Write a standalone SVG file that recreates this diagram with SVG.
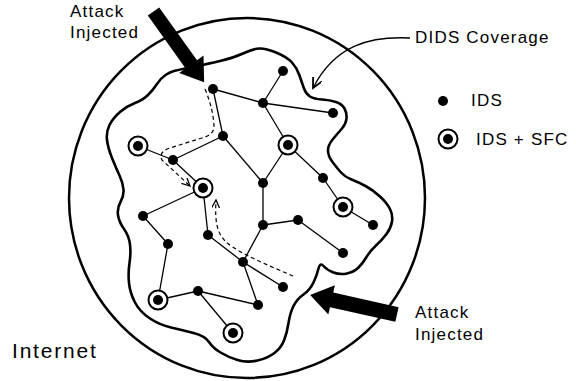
<svg xmlns="http://www.w3.org/2000/svg" width="576" height="381" viewBox="0 0 576 381">
<style>
.lbl{font-family:"Liberation Sans",Arial,sans-serif;font-size:17px;letter-spacing:1.2px;fill:#000}
.edge{stroke:#000;stroke-width:1.3;fill:none}
.dash{stroke:#000;stroke-width:1.2;fill:none;stroke-dasharray:4 3}
.dot{fill:#000}
.ring{fill:#fff;stroke:#000;stroke-width:2}
.thick{fill:#000}
</style>
<defs>
<marker id="vs" markerUnits="userSpaceOnUse" markerWidth="12" markerHeight="12" refX="8" refY="4" orient="auto">
<path d="M0,0 L8,4 L0,8" fill="none" stroke="#000" stroke-width="1.3" stroke-dasharray="none"/>
</marker>
<marker id="vl" markerUnits="userSpaceOnUse" markerWidth="14" markerHeight="14" refX="10" refY="5" orient="auto">
<path d="M0,0 L10,5 L0,10" fill="none" stroke="#000" stroke-width="1.8"/>
</marker>
</defs>
<rect width="576" height="381" fill="#fff"/>
<g id="internet">
<ellipse cx="247" cy="198" rx="178" ry="180" fill="none" stroke="#000" stroke-width="2.5"/>
<text class="lbl" x="12" y="358" style="font-size:21px;letter-spacing:1.8px">Internet</text>
</g>
<g id="coverage">
<path fill="none" stroke="#000" stroke-width="2.6" stroke-linejoin="round" d="M174,71 Q178,70 185,68.5 Q192,67 199.5,65.5 Q207,64 220,61 Q233,58 243,53.5 Q253,49 259,48.5 Q265,48 276,52.5 Q287,57 292,62.5 Q297,68 299.5,75.5 Q302,83 304,88.5 Q306,94 310,96.5 Q314,99 322,99.5 Q330,100 336,102 Q342,104 344.5,108.5 Q347,113 346.5,118.5 Q346,124 342,128.5 Q338,133 333,139 Q328,145 328,150.5 Q328,156 332.5,162 Q337,168 341,172.5 Q345,177 351.5,179.5 Q358,182 365.5,186 Q373,190 380,196.5 Q387,203 390,209 Q393,215 392,221.5 Q391,228 386.5,234 Q382,240 376,245.5 Q370,251 366.5,257 Q363,263 358.5,267.5 Q354,272 347,273.5 Q340,275 333.5,272.5 Q327,270 323.5,266 Q320,262 318.5,268.5 Q317,275 313.5,282.5 Q310,290 303.5,294.5 Q297,299 293.5,306 Q290,313 288.5,323 Q287,333 284,340.5 Q281,348 274.5,353 Q268,358 257.5,360.5 Q247,363 237.5,360 Q228,357 220.5,352.5 Q213,348 209,342 Q205,336 193.5,333 Q182,330 171,327.5 Q160,325 150,318.5 Q140,312 135,302.5 Q130,293 129,283 Q128,273 129.5,263 Q131,253 130,244.5 Q129,236 124,229 Q119,222 118,215 Q117,208 120.5,202 Q124,196 123.5,189.5 Q123,183 119.5,175.5 Q116,168 112,158 Q108,148 107,140 Q106,132 109.5,125 Q113,118 120,112 Q127,106 135,103 Q143,100 148,95 Q153,90 157,84 Q161,78 165.5,75 Q170,72 174,71 Z"/>
<path class="edge" d="M410,38 C370,36 335,45 313,88" stroke-width="1.6" marker-end="url(#vl)"/>
<text class="lbl" x="415" y="43">DIDS Coverage</text>
</g>
<g id="attack-top">
<polygon class="thick" points="0,-7 65,-7 65,-15 87,0 65,15 65,7 0,7" transform="translate(153.5,11.5) rotate(54.4)"/>
<text class="lbl" x="70" y="17">Attack</text>
<text class="lbl" x="70" y="38">Injected</text>
</g>
<g id="attack-bottom">
<polygon class="thick" points="0,-7.5 67,-7.5 67,-15 89,0 67,15 67,7.5 0,7.5" transform="translate(397,314.5) rotate(192.6)"/>
<text class="lbl" x="415" y="318">Attack</text>
<text class="lbl" x="415" y="340">Injected</text>
</g>
<g id="connectors">
<line class="edge" x1="213" y1="89" x2="263" y2="103"/>
<line class="edge" x1="213" y1="89" x2="223" y2="136"/>
<line class="edge" x1="263" y1="103" x2="283" y2="71"/>
<line class="edge" x1="263" y1="103" x2="333" y2="113"/>
<line class="edge" x1="263" y1="103" x2="288" y2="145"/>
<line class="edge" x1="223" y1="136" x2="173" y2="160"/>
<line class="edge" x1="223" y1="136" x2="263" y2="183"/>
<line class="edge" x1="138" y1="146" x2="173" y2="160"/>
<line class="edge" x1="173" y1="160" x2="203" y2="188"/>
<line class="edge" x1="203" y1="188" x2="143" y2="216"/>
<line class="edge" x1="203" y1="188" x2="208" y2="235"/>
<line class="edge" x1="143" y1="216" x2="168" y2="244"/>
<line class="edge" x1="208" y1="235" x2="243" y2="262"/>
<line class="edge" x1="288" y1="145" x2="263" y2="183"/>
<line class="edge" x1="288" y1="145" x2="323" y2="178"/>
<line class="edge" x1="323" y1="178" x2="343" y2="207"/>
<line class="edge" x1="343" y1="207" x2="373" y2="225"/>
<line class="edge" x1="263" y1="183" x2="263" y2="225"/>
<line class="edge" x1="263" y1="225" x2="298" y2="220"/>
<line class="edge" x1="298" y1="220" x2="343" y2="253"/>
<line class="edge" x1="263" y1="225" x2="243" y2="262"/>
<line class="edge" x1="168" y1="244" x2="158" y2="300"/>
<line class="edge" x1="158" y1="300" x2="198" y2="291"/>
<line class="edge" x1="198" y1="291" x2="258" y2="305"/>
<line class="edge" x1="198" y1="291" x2="233" y2="333"/>
<line class="edge" x1="243" y1="262" x2="258" y2="305"/>
<line class="edge" x1="243" y1="262" x2="283" y2="287"/>
<path class="dash" d="M205,89 Q213,108 214,126 Q214,134 205,137 L170,148 Q158,152 162,160 L190,186" marker-end="url(#vs)"/>
<path class="dash" d="M293,276 C270,266 240,254 226,242 C216,232 215,220 216,200" marker-end="url(#vs)"/>
</g>
<g id="n1"><circle class="dot" cx="213" cy="89" r="5"/></g>
<g id="n2"><circle class="dot" cx="283" cy="71" r="5"/></g>
<g id="n3"><circle class="dot" cx="263" cy="103" r="5"/></g>
<g id="n4"><circle class="dot" cx="333" cy="113" r="5"/></g>
<g id="n5"><circle class="dot" cx="173" cy="160" r="5"/></g>
<g id="n6"><circle class="dot" cx="223" cy="136" r="5"/></g>
<g id="n7"><circle class="dot" cx="263" cy="183" r="5"/></g>
<g id="n8"><circle class="dot" cx="143" cy="216" r="5"/></g>
<g id="n9"><circle class="dot" cx="208" cy="235" r="5"/></g>
<g id="n10"><circle class="dot" cx="263" cy="225" r="5"/></g>
<g id="n11"><circle class="dot" cx="168" cy="244" r="5"/></g>
<g id="n12"><circle class="dot" cx="243" cy="262" r="5"/></g>
<g id="n13"><circle class="dot" cx="323" cy="178" r="5"/></g>
<g id="n14"><circle class="dot" cx="373" cy="225" r="5"/></g>
<g id="n15"><circle class="dot" cx="298" cy="220" r="5"/></g>
<g id="n16"><circle class="dot" cx="343" cy="253" r="5"/></g>
<g id="n17"><circle class="dot" cx="198" cy="291" r="5"/></g>
<g id="n18"><circle class="dot" cx="258" cy="305" r="5"/></g>
<g id="n19"><circle class="dot" cx="283" cy="287" r="5"/></g>
<g id="sfc1"><circle class="ring" cx="138" cy="146" r="9.5"/><circle class="dot" cx="138" cy="146" r="5"/></g>
<g id="sfc2"><circle class="ring" cx="203" cy="188" r="9.5"/><circle class="dot" cx="203" cy="188" r="5"/></g>
<g id="sfc3"><circle class="ring" cx="288" cy="145" r="9.5"/><circle class="dot" cx="288" cy="145" r="5"/></g>
<g id="sfc4"><circle class="ring" cx="343" cy="207" r="9.5"/><circle class="dot" cx="343" cy="207" r="5"/></g>
<g id="sfc5"><circle class="ring" cx="158" cy="300" r="9.5"/><circle class="dot" cx="158" cy="300" r="5"/></g>
<g id="sfc6"><circle class="ring" cx="233" cy="333" r="9.5"/><circle class="dot" cx="233" cy="333" r="5"/></g>
<g id="legend">
<circle class="dot" cx="443" cy="101" r="5"/>
<text class="lbl" x="471" y="106">IDS</text>
<circle class="ring" cx="448" cy="139" r="9.5"/><circle class="dot" cx="448" cy="139" r="5"/>
<text class="lbl" x="476" y="145">IDS + SFC</text>
</g>
</svg>
